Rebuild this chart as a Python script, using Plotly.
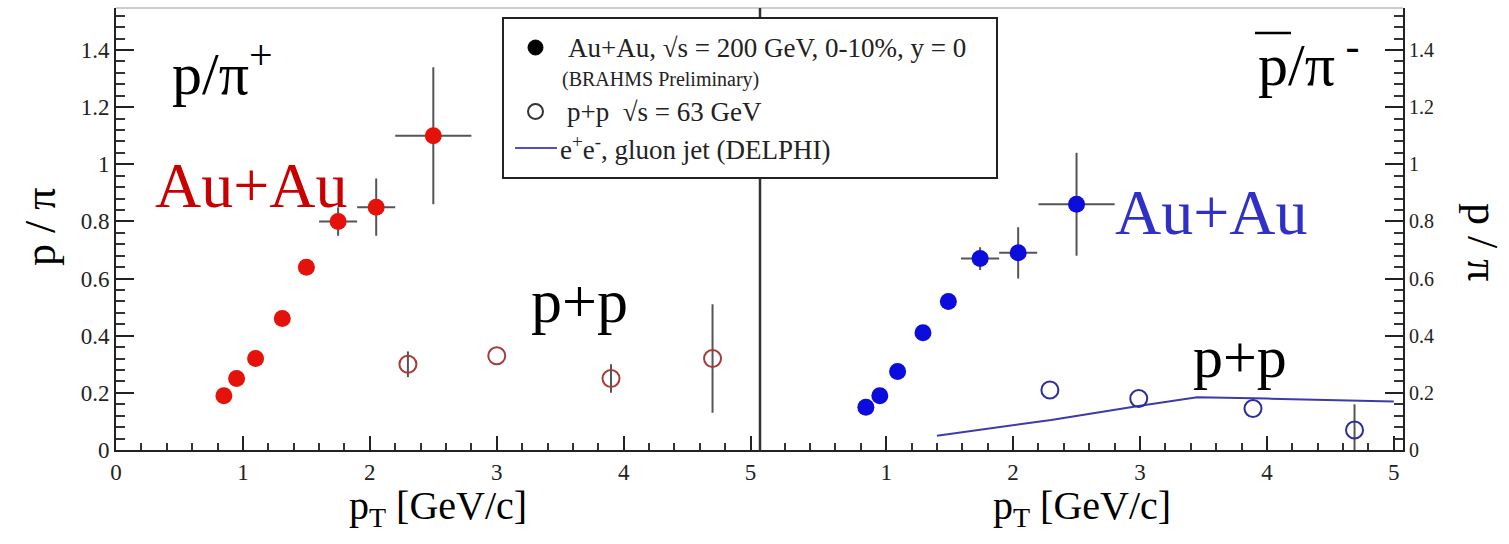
import plotly.graph_objects as go

# ---- p / pi+ (left panel) ----
aa_pos_pt = [0.85, 0.95, 1.10, 1.31, 1.50, 1.75, 2.05, 2.50]
aa_pos_ratio = [0.19, 0.25, 0.32, 0.46, 0.64, 0.80, 0.85, 1.10]
aa_pos_ex = [0, 0, 0, 0, 0, 0.15, 0.15, 0.30]
aa_pos_ey = [0, 0, 0, 0, 0, 0.05, 0.10, 0.24]

pp_pos_pt = [2.30, 3.00, 3.90, 4.70]
pp_pos_ratio = [0.30, 0.33, 0.25, 0.32]
pp_pos_ey = [0.045, 0.0, 0.05, 0.19]

# ---- pbar / pi- (right panel) ----
aa_neg_pt = [0.84, 0.95, 1.09, 1.29, 1.49, 1.74, 2.04, 2.50]
aa_neg_ratio = [0.15, 0.19, 0.275, 0.41, 0.52, 0.67, 0.69, 0.86]
aa_neg_ex = [0, 0, 0, 0, 0, 0.15, 0.15, 0.30]
aa_neg_ey = [0, 0, 0, 0, 0, 0.04, 0.09, 0.18]

pp_neg_pt = [2.29, 2.99, 3.89, 4.69]
pp_neg_ratio = [0.21, 0.18, 0.145, 0.07]
pp_neg_ey = [0, 0, 0, 0.09]

# e+e- gluon jet (DELPHI)
delphi_pt = [1.40, 2.30, 3.00, 3.45, 4.00, 5.00]
delphi_ratio = [0.05, 0.105, 0.155, 0.185, 0.18, 0.17]

SERIF = "Liberation Serif"
ERR = "#555555"
W, H = 1509, 544
L, R, T, B = 116, 106, 8, 94
PW, PH = W - L - R, H - T - B
X_RANGE = [0, 5.07]
X2_RANGE = [0.002, 5.072]
Y_RANGE = [0, 1.547]


def px(x):
    return (x - L) / PW


def py(y):
    return (H - B - y) / PH


fig = go.Figure()

fig.add_trace(go.Scatter(
    x=aa_pos_pt, y=aa_pos_ratio, mode="markers", xaxis="x", yaxis="y",
    marker=dict(symbol="circle", size=17, color="#e5120c"),
    error_x=dict(type="data", array=aa_pos_ex, color=ERR, thickness=2, width=0),
    error_y=dict(type="data", array=aa_pos_ey, color=ERR, thickness=2, width=0),
))
fig.add_trace(go.Scatter(
    x=pp_pos_pt, y=pp_pos_ratio, mode="markers", xaxis="x", yaxis="y",
    marker=dict(symbol="circle-open", size=17, color="#a83a3a", line=dict(width=2)),
    error_y=dict(type="data", array=pp_pos_ey, color=ERR, thickness=2, width=0),
))
fig.add_trace(go.Scatter(
    x=delphi_pt, y=delphi_ratio, mode="lines", xaxis="x2", yaxis="y2",
    line=dict(color="#3c3ca8", width=2),
))
fig.add_trace(go.Scatter(
    x=aa_neg_pt, y=aa_neg_ratio, mode="markers", xaxis="x2", yaxis="y2",
    marker=dict(symbol="circle", size=17, color="#0c0cdc"),
    error_x=dict(type="data", array=aa_neg_ex, color=ERR, thickness=2, width=0),
    error_y=dict(type="data", array=aa_neg_ey, color=ERR, thickness=2, width=0),
))
fig.add_trace(go.Scatter(
    x=pp_neg_pt, y=pp_neg_ratio, mode="markers", xaxis="x2", yaxis="y2",
    marker=dict(symbol="circle-open", size=17, color="#2c2ca0", line=dict(width=2)),
    error_y=dict(type="data", array=pp_neg_ey, color=ERR, thickness=2, width=0),
))
# empty traces that tie the tick-only overlay axes into the figure
fig.add_trace(go.Scatter(x=[], y=[], xaxis="x3", yaxis="y3", hoverinfo="skip"))
fig.add_trace(go.Scatter(x=[], y=[], xaxis="x4", yaxis="y4", hoverinfo="skip"))

base = dict(showline=True, linecolor="#222", linewidth=2,
            ticks="inside", tickwidth=2, tickcolor="#222", showgrid=False, zeroline=False)
x_base = dict(base, ticklen=14, tickmode="linear", tick0=0, dtick=1,
              tickfont=dict(family=SERIF, size=23, color="#222"),
              minor=dict(ticks="inside", ticklen=7, tickwidth=1.5, tickcolor="#333", dtick=0.2))
y_base = dict(base, ticklen=18, tickmode="linear", tick0=0, dtick=0.2, range=Y_RANGE,
              minor=dict(ticks="inside", ticklen=9, tickwidth=1.5, tickcolor="#333", dtick=0.04))

# overlay axes carrying only the tick marks
x_ticks_only = dict(showline=False, showgrid=False, zeroline=False, showticklabels=False,
                    ticks="inside", ticklen=14, tickwidth=2, tickcolor="#222",
                    tickmode="linear", tick0=0, dtick=1,
                    minor=dict(ticks="inside", ticklen=7, tickwidth=1.5, tickcolor="#333", dtick=0.2))
y_ticks_only = dict(showline=False, showgrid=False, zeroline=False, showticklabels=False,
                    ticks="inside", ticklen=18, tickwidth=2, tickcolor="#222",
                    tickmode="linear", tick0=0, dtick=0.2, range=Y_RANGE,
                    minor=dict(ticks="inside", ticklen=9, tickwidth=1.5, tickcolor="#333", dtick=0.04))

fig.update_layout(
    width=W, height=H,
    margin=dict(l=L, r=R, t=T, b=B),
    paper_bgcolor="white", plot_bgcolor="rgba(0,0,0,0)",
    showlegend=False,
    xaxis=dict(domain=[0, 0.5], anchor="y", range=X_RANGE, **x_base),
    # the right panel starts just past 0 so its origin label stays hidden at the divider
    xaxis2=dict(domain=[0.5, 1.0], anchor="y2", range=X2_RANGE, **x_base),
    yaxis=dict(domain=[0, 1], anchor="x", side="left",
               tickfont=dict(family=SERIF, size=23, color="#222"), **y_base),
    yaxis2=dict(domain=[0, 1], anchor="x2", side="right",
                tickfont=dict(family=SERIF, size=20, color="#222"), **y_base),
    xaxis3=dict(overlaying="x", anchor="y3", range=X_RANGE, **x_ticks_only),
    yaxis3=dict(overlaying="y", anchor="x3", side="left", **y_ticks_only),
    xaxis4=dict(overlaying="x2", anchor="y4", range=X2_RANGE, **x_ticks_only),
    yaxis4=dict(overlaying="y2", anchor="x4", side="right", **y_ticks_only),
)

# frame pieces and legend, drawn beneath the axes
shapes = [
    dict(type="line", x0=px(116), x1=px(1403), y0=py(8), y1=py(8),
         line=dict(color="#bbbbbb", width=1.5)),
    dict(type="line", x0=px(760), x1=px(760), y0=py(8), y1=py(450),
         line=dict(color="#333333", width=2.5)),
    dict(type="rect", x0=px(503), x1=px(997), y0=py(18), y1=py(178),
         line=dict(color="#222222", width=2), fillcolor="white"),
    dict(type="circle", x0=px(528), x1=px(543), y0=py(40), y1=py(55),
         line=dict(color="black", width=1), fillcolor="black"),
    dict(type="circle", x0=px(528), x1=px(543), y0=py(104), y1=py(119),
         line=dict(color="#333", width=2), fillcolor="white"),
    dict(type="line", x0=px(515), x1=px(557), y0=py(148), y1=py(148),
         line=dict(color="#5050c0", width=2)),
    # bar over the antiproton symbol
    dict(type="line", x0=px(1255), x1=px(1291), y0=py(33), y1=py(33),
         line=dict(color="black", width=2.5)),
]
for s in shapes:
    s.update(xref="paper", yref="paper", layer="below")
fig.update_layout(shapes=shapes)


def label(text, x, y, size, color="black", xanchor="center", angle=0):
    return dict(text=text, xref="paper", yref="paper", x=px(x), y=py(y),
                xanchor=xanchor, yanchor="middle", showarrow=False, textangle=angle,
                font=dict(family=SERIF, size=size, color=color))


annotations = [
    label("p/π<sup>+</sup>", 222, 70, 60),
    label("Au+Au", 251, 185, 64, "#c80000"),
    label("p+p", 579, 301, 62),
    label("p/π<sup> -</sup>", 1308, 60, 60),
    label("Au+Au", 1211, 212, 64, "#3030c8"),
    label("p+p", 1240, 357, 60),
    label("p / π", 40, 227, 44, angle=-90),
    label("p / π", 1483, 242, 44, angle=90),
    label("p<sub>T</sub> [GeV/c]", 438, 508, 40),
    label("p<sub>T</sub> [GeV/c]", 1082, 508, 40),
    # legend text
    label("Au+Au, √s = 200 GeV, 0-10%, y = 0", 566, 48, 27, "#222", xanchor="left"),
    label("(BRAHMS Preliminary)", 560, 80, 20, "#222", xanchor="left"),
    label("p+p  √s = 63 GeV", 565, 112, 27, "#222", xanchor="left"),
    label("e<sup>+</sup>e<sup>-</sup>, gluon jet (DELPHI)", 558, 148, 27, "#222", xanchor="left"),
]
fig.update_layout(annotations=annotations)

fig.write_html("out.html")
